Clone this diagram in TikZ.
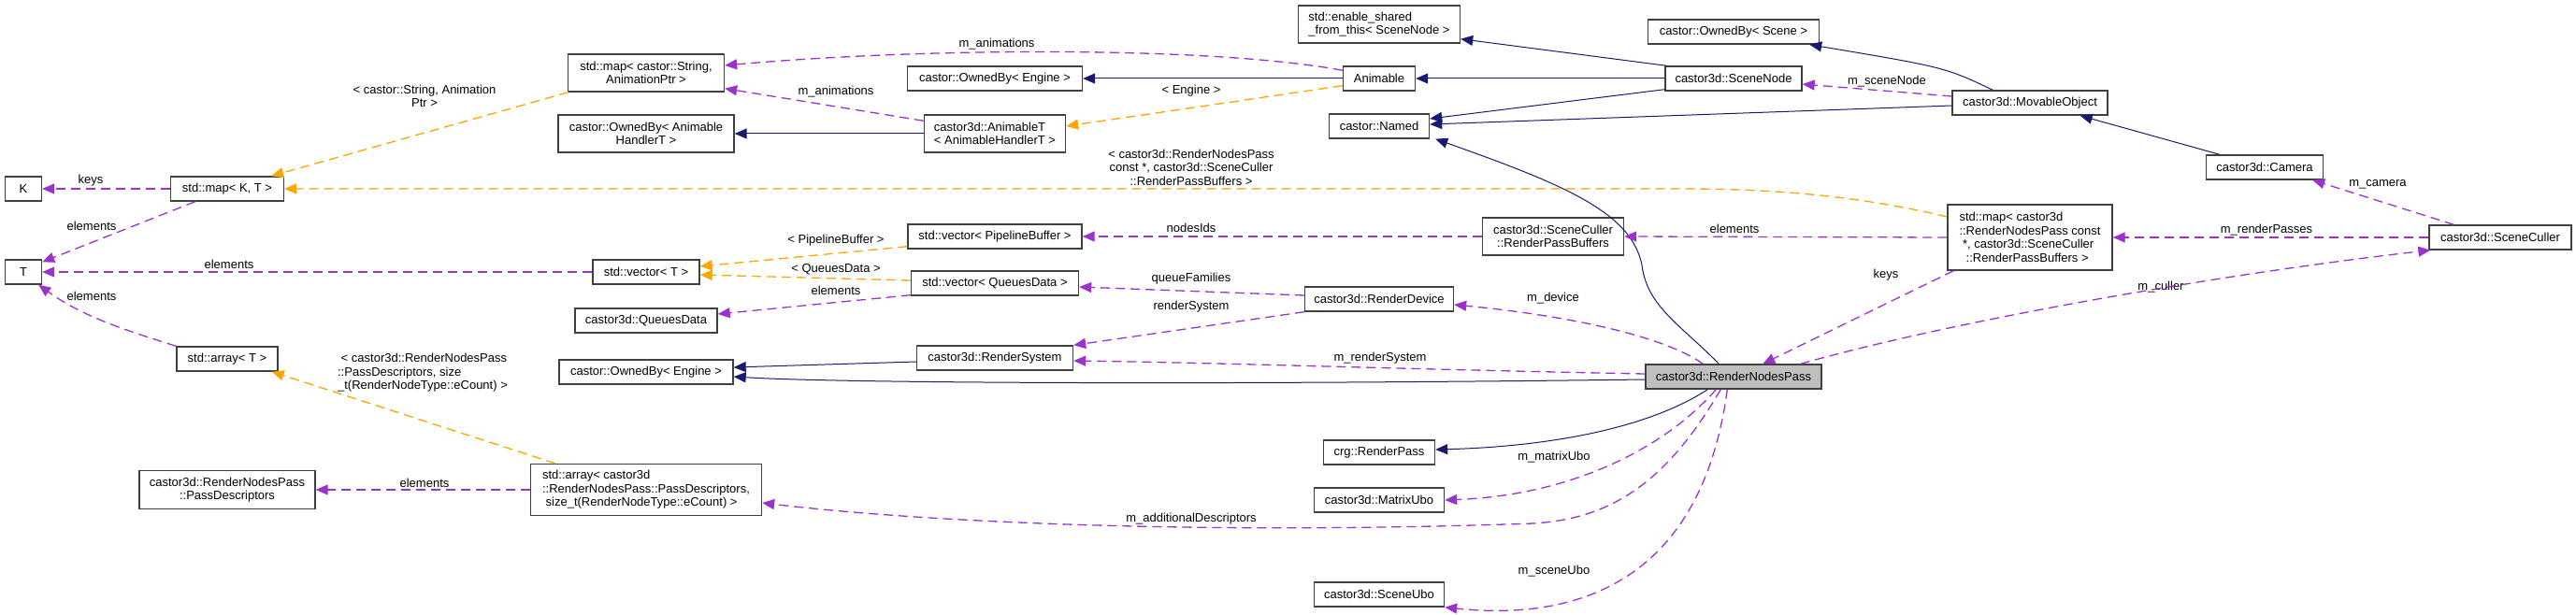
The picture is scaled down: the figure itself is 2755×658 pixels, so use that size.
\documentclass[tikz,border=0pt]{standalone}
\usepackage{fontspec}
\setmainfont{Liberation Sans}
\usetikzlibrary{arrows.meta}
\usetikzlibrary{calc}
\definecolor{inheritblue}{HTML}{191970}
\definecolor{memberpurple}{HTML}{9A32CD}
\definecolor{templateorange}{HTML}{FFA500}
\definecolor{boxgray}{HTML}{404040}
\definecolor{focusgray}{HTML}{BFBFBF}
\tikzset{classbox/.style={draw=boxgray, line width=1.4pt, fill=white, inner xsep=3pt, inner ysep=2pt, minimum height=26pt, font=\fontsize{13}{14.5}\selectfont}}
\tikzset{edgelabel/.style={inner sep=0pt, align=center, font=\fontsize{13}{14.5}\selectfont}}
\tikzset{inheritarrow/.style={draw=inheritblue, line width=1pt, -{Triangle[length=13pt,width=11pt,fill=inheritblue]}}}
\tikzset{memberarrow/.style={draw=memberpurple, line width=1.3pt, dash pattern=on 10pt off 6pt, -{Triangle[length=13pt,width=11pt,fill=memberpurple]}}}
\tikzset{templatearrow/.style={draw=templateorange, line width=1.3pt, dash pattern=on 10pt off 6pt, -{Triangle[length=13pt,width=11pt,fill=templateorange]}}}

\begin{document}
\begin{tikzpicture}[x=1pt,y=-1pt]
            \useasboundingbox (0,0) rectangle (2755,658);
            % classes
            \node[classbox, minimum width=39pt] (K) at (25,202) {K};
            \node[classbox, minimum width=121pt] (mapKT) at (243,202) {std::map< K, T >};
            \node[classbox, minimum width=39pt] (T) at (25,291) {T};
            \node[classbox, minimum width=108pt] (arrT) at (243,384) {std::array< T >};
            \node[classbox, minimum width=188pt, minimum height=41pt, align=center] (passdesc) at (243,524) {castor3d::RenderNodesPass\\::PassDescriptors};
            \node[classbox, minimum width=167pt, minimum height=40pt, align=center] (mapanim) at (691,78) {std::map< castor::String,\\AnimationPtr >};
            \node[classbox, minimum width=188pt, minimum height=40pt, align=center] (ownedanim) at (691,143) {castor::OwnedBy< Animable\\HandlerT >};
            \node[classbox, minimum width=114pt] (vecT) at (691,291) {std::vector< T >};
            \node[classbox, minimum width=152pt] (queues) at (691,343) {castor3d::QueuesData};
            \node[classbox, minimum width=186pt] (ownedeng2) at (691,398) {castor::OwnedBy< Engine >};
            \node[classbox, minimum width=247pt, minimum height=55pt, align=left] (arrpass) at (691,524) {std::array< castor3d\\::RenderNodesPass::PassDescriptors,\\\ size\_t(RenderNodeType::eCount) >};
            \node[classbox, minimum width=187pt] (ownedeng1) at (1064,84) {castor::OwnedBy< Engine >};
            \node[classbox, minimum width=151pt, minimum height=40pt, align=left] (animT) at (1064,143) {castor3d::AnimableT\\< AnimableHandlerT >};
            \node[classbox, minimum width=186pt] (vecpipe) at (1064,253) {std::vector< PipelineBuffer >};
            \node[classbox, minimum width=179pt] (vecqueues) at (1064,303) {std::vector< QueuesData >};
            \node[classbox, minimum width=167pt] (rsys) at (1064,383) {castor3d::RenderSystem};
            \node[classbox, minimum width=173pt, minimum height=40pt, align=left] (enable) at (1475,26) {std::enable\_shared\\\_from\_this< SceneNode >};
            \node[classbox, minimum width=77pt] (animable) at (1475,84) {Animable};
            \node[classbox, minimum width=107pt] (named) at (1475,135) {castor::Named};
            \node[classbox, minimum width=159pt] (rdevice) at (1475,320) {castor3d::RenderDevice};
            \node[classbox, minimum width=119pt] (rpass) at (1475,484) {crg::RenderPass};
            \node[classbox, minimum width=139pt] (matubo) at (1475,535) {castor3d::MatrixUbo};
            \node[classbox, minimum width=139pt] (sceneubo) at (1475,636) {castor3d::SceneUbo};
            \node[classbox, minimum width=151pt, minimum height=40pt, align=center] (rpbuf) at (1661,253) {castor3d::SceneCuller\\::RenderPassBuffers};
            \node[classbox, minimum width=183pt] (ownedscene) at (1854,34) {castor::OwnedBy< Scene >};
            \node[classbox, minimum width=146pt] (scenenode) at (1854,84) {castor3d::SceneNode};
            \node[classbox, fill=focusgray, minimum width=188pt] (rnp) at (1854,403) {castor3d::RenderNodesPass};
            \node[classbox, minimum width=166pt] (movable) at (2171,110) {castor3d::MovableObject};
            \node[classbox, minimum width=176pt, minimum height=70pt, align=left] (mappass) at (2171,254) {std::map< castor3d\\::RenderNodesPass const\\\ *, castor3d::SceneCuller\\\ \ ::RenderPassBuffers >};
            \node[classbox, minimum width=125pt] (camera) at (2422,179) {castor3d::Camera};
            \node[classbox, minimum width=152pt] (culler) at (2674,254) {castor3d::SceneCuller};
            % labels
            \node[edgelabel] (lkeysK) at (97,193) {keys};
            \node[edgelabel] (lelemmap) at (98,242) {elements};
            \node[edgelabel] (lelemvec) at (245,283) {elements};
            \node[edgelabel] (lelemarr) at (98,317) {elements};
            \node[edgelabel] (lstring) at (454,103) {< castor::String, Animation\\Ptr >};
            \node[edgelabel, align=left] (lpassdesc) at (452,399) {\ < castor3d::RenderNodesPass\\::PassDescriptors, size\\\_t(RenderNodeType::eCount) >};
            \node[edgelabel] (lelempass) at (454,517) {elements};
            \node[edgelabel] (lanimtop) at (1066,47) {m\_animations};
            \node[edgelabel] (lanimlow) at (894,98) {m\_animations};
            \node[edgelabel] (lpipe) at (894,257) {< PipelineBuffer >};
            \node[edgelabel] (lqd) at (894,288) {< QueuesData >};
            \node[edgelabel] (lelemqd) at (894,311) {elements};
            \node[edgelabel] (lengine) at (1274,97) {< Engine >};
            \node[edgelabel] (lrnpbuf) at (1274,179) {< castor3d::RenderNodesPass\\const *, castor3d::SceneCuller\\::RenderPassBuffers >};
            \node[edgelabel] (lnodes) at (1274,244) {nodesIds};
            \node[edgelabel] (lqueue) at (1274,298) {queueFamilies};
            \node[edgelabel] (lrsys) at (1274,328) {renderSystem};
            \node[edgelabel] (laddesc) at (1274,555) {m\_additionalDescriptors};
            \node[edgelabel] (lmrsys) at (1476,383) {m\_renderSystem};
            \node[edgelabel] (lmdev) at (1661,319) {m\_device};
            \node[edgelabel] (lmatubo) at (1662,489) {m\_matrixUbo};
            \node[edgelabel] (lsceneubo) at (1662,611) {m\_sceneUbo};
            \node[edgelabel] (lelemrp) at (1855,245) {elements};
            \node[edgelabel] (lscenenode) at (2018,87) {m\_sceneNode};
            \node[edgelabel] (lkeysrnp) at (2017,294) {keys};
            \node[edgelabel] (lculler) at (2311,307) {m\_culler};
            \node[edgelabel] (lpasses) at (2424,246) {m\_renderPasses};
            \node[edgelabel] (lcamera) at (2543,197) {m\_camera};
            % inheritance
            \draw[inheritarrow] (animT.west) -- (ownedanim.east);
            \draw[inheritarrow] (animable.west) -- (ownedeng1.east);
            \draw[inheritarrow] (scenenode.west) -- (animable.east);
            \draw[inheritarrow] ($(scenenode.north west)+(2,0)$) -- ($(enable.south east)+(0,-5)$);
            \draw[inheritarrow] ($(scenenode.south west)+(0,-2)$) -- ($(named.east)+(0,-8)$);
            \draw[inheritarrow] ($(movable.west)+(0,3)$) -- ($(named.east)+(0,-2)$);
            \draw[inheritarrow] ($(movable.north west)+(44,0)$) .. controls (2080,72) .. ($(ownedscene.south east)+(-11,0)$);
            \draw[inheritarrow] ($(camera.north west)+(15,0)$) -- ($(movable.south east)+(-30,0)$);
            \draw[inheritarrow] ($(rnp.north west)+(79,0)$) .. controls (1800,350) and (1765,330) .. (1757,290) .. controls (1750,230) and (1680,200) .. ($(named.south east)+(6,0)$);
            \draw[inheritarrow] ($(rsys.west)+(0,4)$) -- ($(ownedeng2.east)+(0,-5)$);
            \draw[inheritarrow] ($(rnp.west)+(0,3)$) .. controls (1300,412) and (900,410) .. ($(ownedeng2.east)+(0,5)$);
            \draw[inheritarrow] ($(rnp.south west)+(67,0)$) .. controls (1760,460) and (1650,478) .. ($(rpass.east)+(0,-3)$);
            % templates
            \draw[templatearrow] ($(mapanim.south west)+(1,0)$) -- ($(mapKT.north east)+(-14,0)$);
            \draw[templatearrow] ($(mappass.west)+(0,-22)$) .. controls (1990,210) and (1900,202) .. (1800,202) -- (mapKT.east);
            \draw[templatearrow] ($(animable.south west)+(0,-6)$) -- ($(animT.east)+(0,-8)$);
            \draw[templatearrow] ($(vecpipe.south west)+(0,-3)$) -- ($(vecT.east)+(0,-6)$);
            \draw[templatearrow] ($(vecqueues.west)+(0,-3)$) -- ($(vecT.east)+(0,3)$);
            \draw[templatearrow] ($(arrpass.north west)+(27,0)$) -- ($(arrT.south east)+(-7,0)$);
            % members
            \draw[memberarrow] (mapKT.west) -- (K.east);
            \draw[memberarrow] ($(mapKT.south west)+(27,0)$) -- ($(T.north east)+(0,3)$);
            \draw[memberarrow] (vecT.west) -- (T.east);
            \draw[memberarrow] (arrT.north west) .. controls (140,355) and (90,340) .. ($(T.south east)+(-4,0)$);
            \draw[memberarrow] ($(animable.north west)+(0,5)$) .. controls (1300,50) and (1000,50) .. ($(mapanim.east)+(0,-8)$);
            \draw[memberarrow] ($(animT.north west)+(0,7)$) -- ($(mapanim.south east)+(0,-4)$);
            \draw[memberarrow] (rpbuf.west) -- (vecpipe.east);
            \draw[memberarrow] (mappass.west) -- (rpbuf.east);
            \draw[memberarrow] ($(rdevice.west)+(0,-4)$) -- ($(vecqueues.east)+(0,4)$);
            \draw[memberarrow] ($(vecqueues.south west)+(0,-1)$) -- ($(queues.east)+(0,-7)$);
            \draw[memberarrow] (rdevice.south west) -- (rsys.north east);
            \draw[memberarrow] ($(rnp.west)+(0,-3)$) .. controls (1500,395) and (1300,388) .. ($(rsys.east)+(0,3)$);
            \draw[memberarrow] ($(rnp.north west)+(62,0)$) .. controls (1780,360) and (1680,338) .. ($(rdevice.east)+(0,6)$);
            \draw[memberarrow] ($(mappass.south west)+(7,0)$) -- ($(rnp.north west)+(126,0)$);
            \draw[memberarrow] ($(rnp.north east)+(-23,0)$) .. controls (2100,340) and (2400,290) .. ($(culler.south west)+(2,0)$);
            \draw[memberarrow] (culler.west) -- (mappass.east);
            \draw[memberarrow] ($(culler.north west)+(27,0)$) -- ($(camera.south east)+(-12,0)$);
            \draw[memberarrow] ($(movable.west)+(0,-7)$) -- ($(scenenode.east)+(0,6)$);
            \draw[memberarrow] ($(rnp.south west)+(76,0)$) .. controls (1780,480) and (1680,530) .. (matubo.east);
            \draw[memberarrow] ($(rnp.south west)+(81,0)$) .. controls (1780,520) and (1720,555) .. (1640,560) .. controls (1300,572) and (1000,560) .. ($(arrpass.east)+(0,14)$);
            \draw[memberarrow] ($(rnp.south west)+(88,0)$) .. controls (1820,620) and (1690,665) .. (sceneubo.south east);
            \draw[memberarrow] (arrpass.west) -- (passdesc.east);
\end{tikzpicture}
\end{document}
